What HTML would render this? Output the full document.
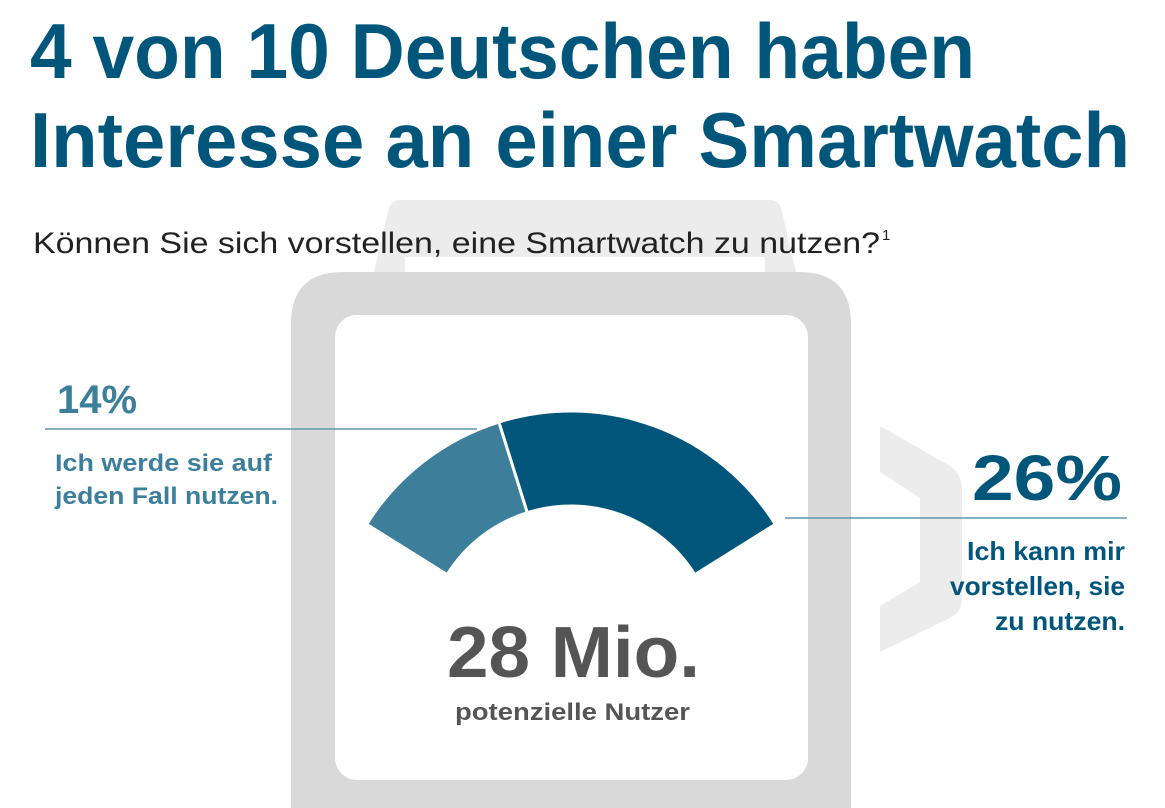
<!DOCTYPE html>
<html><head><meta charset="utf-8"><style>
html,body{margin:0;padding:0;background:#fff;overflow:hidden;width:1165px;height:808px;}
svg{display:block;overflow:hidden;font-family:"Liberation Sans",sans-serif;font-weight:bold;}
</style></head><body>
<svg id="chart" width="1165" height="808" viewBox="0 0 1165 808">
  <g>
    <path d="M400,200 L770,200 Q780,200 782,212 L796,272 L374,272 L388,212 Q390,200 400,200 Z" fill="#ececec"/>
    <rect x="405" y="257" width="360" height="16" fill="#fff"/>
    <path d="M880,426 L950,466 Q962,474 962,490 L962,598 Q962,612 950,618 L880,652 L880,606 L920,582 L920,498 L880,472 Z" fill="#ececec"/>
    <path d="M291,808 L291,324 Q291,272 343,272 L799,272 Q851,272 851,324 L851,808 Z" fill="#d9d9d9"/>
    <rect x="335" y="315" width="473" height="465" rx="22" fill="#fff"/>
  </g>
  <text x="30" y="78" font-size="78" fill="#00567a" textLength="945" lengthAdjust="spacingAndGlyphs">4 von 10 Deutschen haben</text>
  <text x="30" y="167" font-size="78" fill="#00567a" textLength="1100" lengthAdjust="spacingAndGlyphs">Interesse an einer Smartwatch</text>
  <text x="33" y="253" font-size="30" fill="#222" font-weight="normal" textLength="847" lengthAdjust="spacingAndGlyphs">Können Sie sich vorstellen, eine Smartwatch zu nutzen?</text>
  <text x="882" y="240" font-size="15" fill="#222" font-weight="normal">1</text>
  <g id="arcs"></g>
  <line x1="45" y1="429" x2="477" y2="429" stroke="#5f97ad" stroke-width="1.5"/>
  <text x="57" y="413" font-size="40" fill="#3d7f9a" textLength="80" lengthAdjust="spacingAndGlyphs">14%</text>
  <text x="55" y="471" font-size="24" fill="#3d7f9a" textLength="217" lengthAdjust="spacingAndGlyphs">Ich werde sie auf</text>
  <text x="55" y="504" font-size="24" fill="#3d7f9a" textLength="223" lengthAdjust="spacingAndGlyphs">jeden Fall nutzen.</text>
  <line x1="785" y1="518" x2="1127" y2="518" stroke="#5f97ad" stroke-width="1.5"/>
  <text x="972" y="500" font-size="64" fill="#00567a" textLength="150" lengthAdjust="spacingAndGlyphs">26%</text>
  <g font-size="26" fill="#00567a" text-anchor="end">
    <text x="1125" y="560" textLength="158" lengthAdjust="spacingAndGlyphs">Ich kann mir</text>
    <text x="1125" y="595" textLength="175" lengthAdjust="spacingAndGlyphs">vorstellen, sie</text>
    <text x="1125" y="630" textLength="130" lengthAdjust="spacingAndGlyphs">zu nutzen.</text>
  </g>
  <text x="447" y="677" font-size="72" fill="#555" textLength="253" lengthAdjust="spacingAndGlyphs">28 Mio.</text>
  <text x="455" y="720" font-size="24" fill="#555" textLength="235" lengthAdjust="spacingAndGlyphs">potenzielle Nutzer</text>
</svg>
<script>
const categories = ["Ich werde sie auf jeden Fall nutzen", "Ich kann mir vorstellen, sie zu nutzen"];
const values = [14, 26];
const colors = ["#3d7f9a", "#00567a"];
const cx = 571, cy = 652, R = 241, r = 146;
const startDeg = -58, degPerPct = 2.9;
function angle(v){ return (startDeg + v * degPerPct) * Math.PI / 180; }
function pt(rad, a){ return [cx + rad * Math.sin(a), cy - rad * Math.cos(a)]; }
const g = document.getElementById('arcs');
let acc = 0;
values.forEach((v, i) => {
  const a0 = angle(acc), a1 = angle(acc + v);
  acc += v;
  const p0 = pt(R, a0), p1 = pt(R, a1), p2 = pt(r, a1), p3 = pt(r, a0);
  const large = (a1 - a0) > Math.PI ? 1 : 0;
  const d = `M${p0[0]},${p0[1]} A${R},${R} 0 ${large} 1 ${p1[0]},${p1[1]} L${p2[0]},${p2[1]} A${r},${r} 0 ${large} 0 ${p3[0]},${p3[1]} Z`;
  const path = document.createElementNS('http://www.w3.org/2000/svg', 'path');
  path.setAttribute('d', d);
  path.setAttribute('fill', colors[i]);
  path.setAttribute('stroke', '#fff');
  path.setAttribute('stroke-width', '3');
  
  
  const t = document.createElementNS('http://www.w3.org/2000/svg', 'title');
  t.textContent = categories[i] + ': ' + v + '%';
  path.appendChild(t);
  g.appendChild(path);
});
</script>
</body></html>
